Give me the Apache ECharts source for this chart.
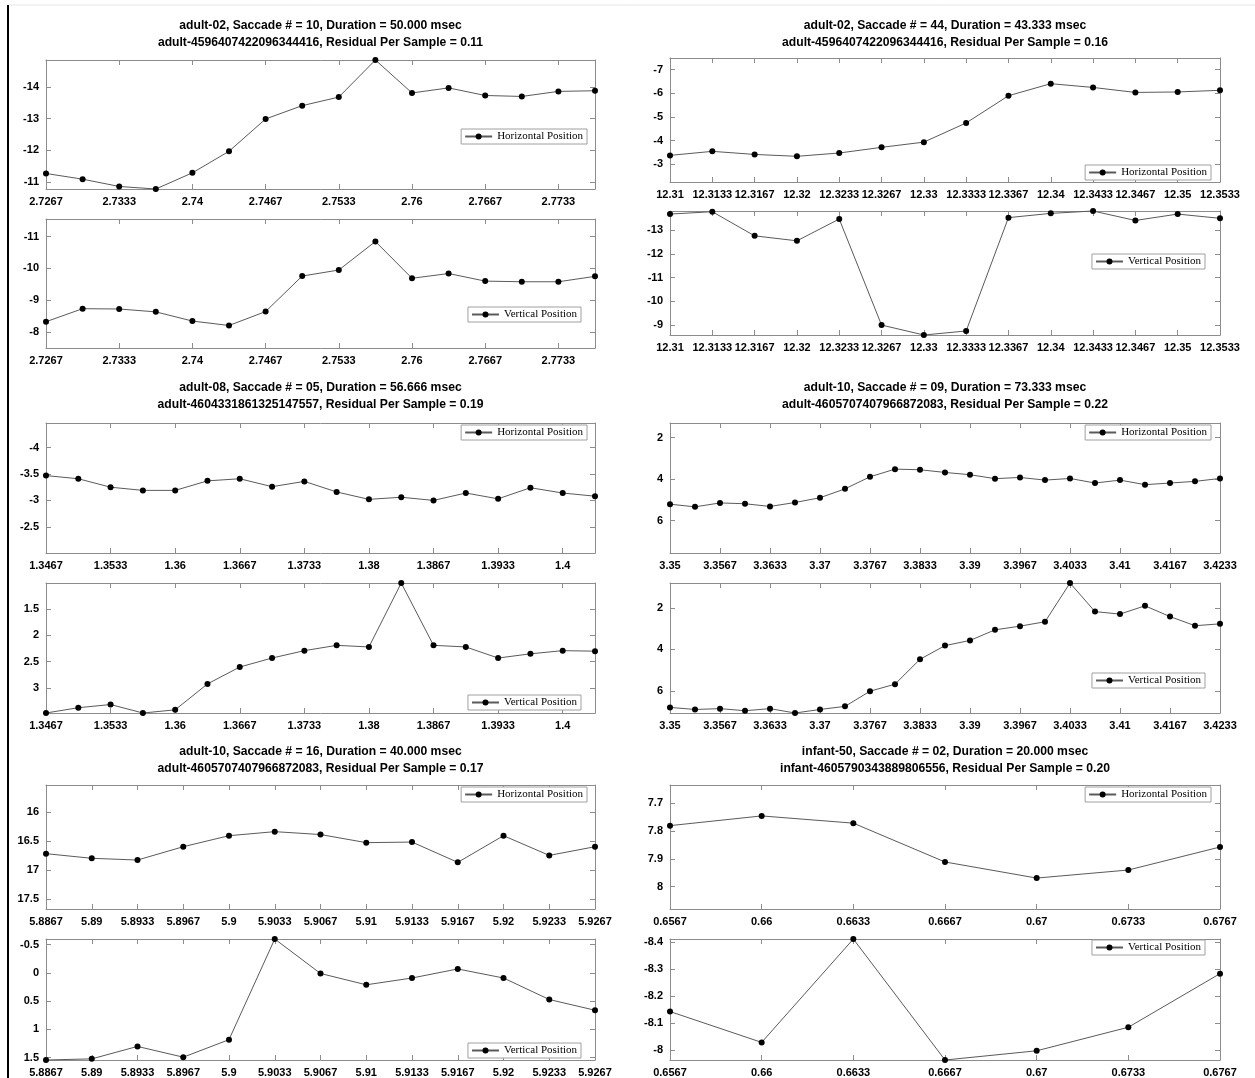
<!DOCTYPE html>
<html>
<head>
<meta charset="utf-8">
<script src="https://cdn.jsdelivr.net/npm/echarts@6/dist/echarts.min.js"></script>
<style>
  html, body { margin: 0; padding: 0; background: #fff; }
  #chart { width: 1255px; height: 1078px; }
</style>
</head>
<body>
<div id="chart"></div>
<script>
// ---- data ----
const titleLines1 = ['adult-02, Saccade # = 10, Duration = 50.000 msec', 'adult-4596407422096344416, Residual Per Sample = 0.11'];
const titleLines2 = ['adult-02, Saccade # = 44, Duration = 43.333 msec', 'adult-4596407422096344416, Residual Per Sample = 0.16'];
const titleLines3 = ['adult-08, Saccade # = 05, Duration = 56.666 msec', 'adult-4604331861325147557, Residual Per Sample = 0.19'];
const titleLines4 = ['adult-10, Saccade # = 09, Duration = 73.333 msec', 'adult-4605707407966872083, Residual Per Sample = 0.22'];
const titleLines5 = ['adult-10, Saccade # = 16, Duration = 40.000 msec', 'adult-4605707407966872083, Residual Per Sample = 0.17'];
const titleLines6 = ['infant-50, Saccade # = 02, Duration = 20.000 msec', 'infant-4605790343889806556, Residual Per Sample = 0.20'];

const time1 = [2.7267, 2.73, 2.7333, 2.7367, 2.74, 2.7433, 2.7467, 2.75, 2.7533, 2.7567, 2.76, 2.7633, 2.7667, 2.77, 2.7733, 2.7767];
const hPos1 = [-11.27, -11.09, -10.86, -10.78, -11.29, -11.97, -12.99, -13.41, -13.68, -14.85, -13.81, -13.97, -13.73, -13.70, -13.86, -13.88];
const vPos1 = [-8.32, -8.73, -8.72, -8.63, -8.34, -8.20, -8.64, -9.76, -9.95, -10.85, -9.69, -9.84, -9.60, -9.58, -9.58, -9.75];

const time2 = [12.31, 12.3133, 12.3167, 12.32, 12.3233, 12.3267, 12.33, 12.3333, 12.3367, 12.34, 12.3433, 12.3467, 12.35, 12.3533];
const hPos2 = [-3.38, -3.55, -3.42, -3.34, -3.48, -3.72, -3.94, -4.75, -5.90, -6.41, -6.25, -6.04, -6.06, -6.13];
const vPos2 = [-13.69, -13.79, -12.77, -12.56, -13.48, -9.00, -8.58, -8.75, -13.54, -13.72, -13.82, -13.42, -13.69, -13.51];

const time3 = [1.3467, 1.35, 1.3533, 1.3567, 1.36, 1.3633, 1.3667, 1.37, 1.3733, 1.3767, 1.38, 1.3833, 1.3867, 1.39, 1.3933, 1.3967, 1.4, 1.4033];
const hPos3 = [-3.47, -3.41, -3.25, -3.19, -3.19, -3.37, -3.41, -3.26, -3.36, -3.16, -3.02, -3.06, -3.00, -3.14, -3.03, -3.24, -3.14, -3.08];
const vPos3 = [3.47, 3.37, 3.31, 3.47, 3.41, 2.92, 2.60, 2.43, 2.29, 2.19, 2.22, 1.01, 2.19, 2.22, 2.43, 2.35, 2.29, 2.30];

const time4 = [3.35, 3.3533, 3.3567, 3.36, 3.3633, 3.3667, 3.37, 3.3733, 3.3767, 3.38, 3.3833, 3.3867, 3.39, 3.3933, 3.3967, 3.4, 3.4033, 3.4067, 3.41, 3.4133, 3.4167, 3.42, 3.4233];
const hPos4 = [5.21, 5.34, 5.15, 5.19, 5.32, 5.13, 4.90, 4.47, 3.89, 3.52, 3.55, 3.68, 3.79, 3.98, 3.92, 4.05, 3.97, 4.19, 4.05, 4.27, 4.19, 4.11, 3.97];
const vPos4 = [6.80, 6.90, 6.86, 6.96, 6.86, 7.07, 6.90, 6.75, 6.02, 5.68, 4.48, 3.82, 3.57, 3.06, 2.88, 2.67, 0.80, 2.18, 2.30, 1.90, 2.42, 2.86, 2.77];

const time5 = [5.8867, 5.89, 5.8933, 5.8967, 5.9, 5.9033, 5.9067, 5.91, 5.9133, 5.9167, 5.92, 5.9233, 5.9267];
const hPos5 = [16.72, 16.80, 16.83, 16.60, 16.41, 16.34, 16.39, 16.53, 16.52, 16.87, 16.41, 16.75, 16.60];
const vPos5 = [1.54, 1.52, 1.30, 1.49, 1.18, -0.60, 0.01, 0.21, 0.09, -0.07, 0.09, 0.47, 0.66];

const time6 = [0.6567, 0.66, 0.6633, 0.6667, 0.67, 0.6733, 0.6767];
const hPos6 = [7.780, 7.745, 7.771, 7.911, 7.969, 7.940, 7.857];
const vPos6 = [-8.143, -8.029, -8.411, -7.964, -7.998, -8.085, -8.283];

// ---- layout ----
const SANS = '"Liberation Sans", Arial, sans-serif';
const SERIF = '"Liberation Serif", "DejaVu Serif", serif';
const BOX = '#8c8c8c';

const panels = [
  { title: titleLines1, t: time1, h: hPos1, v: vPos1, step: 1, every: 1, x: 46, w: 549, cx: 320.5, ty: 25.5, top: [60, 189], bot: [219, 348], legH: [668, 129], legV: [674, 307] },
  { title: titleLines2, t: time2, h: hPos2, v: vPos2, step: 1, every: 0, x: 670, w: 550, cx: 945, ty: 25.5, top: [58, 182], bot: [211, 335], legH: [44, 165], legV: [50, 254] },
  { title: titleLines3, t: time3, h: hPos3, v: vPos3, step: 0.5, every: 1, x: 46, w: 549, cx: 320.5, ty: 387.5, top: [423, 553], bot: [583, 713], legH: [668, 425], legV: [674, 695] },
  { title: titleLines4, t: time4, h: hPos4, v: vPos4, step: 2, every: 1, x: 670, w: 550, cx: 945, ty: 387.5, top: [423, 553], bot: [583, 713], legH: [44, 425], legV: [50, 673] },
  { title: titleLines5, t: time5, h: hPos5, v: vPos5, step: 0.5, every: 0, x: 46, w: 549, cx: 320.5, ty: 751.5, top: [785, 909], bot: [939, 1062], legH: [668, 787], legV: [674, 1043] },
  { title: titleLines6, t: time6, h: hPos6, v: vPos6, step: 0.1, every: 0, x: 670, w: 550, cx: 945, ty: 751.5, top: [785, 909], bot: [939, 1062], legH: [44, 787], legV: [50, 940] }
];

// both panels of a saccade share the same y span, centred on their own data
function yLimits(a, b) {
  const lo = Math.min(...a), hi = Math.max(...a);
  const span = Math.max(hi - lo, Math.max(...b) - Math.min(...b));
  const mid = (lo + hi) / 2;
  return [mid - span / 2, mid + span / 2];
}

const grid = [], xAxis = [], yAxis = [], series = [], legend = [], graphic = [];

const fmt = (v) => String(parseFloat((+v).toFixed(4)));

panels.forEach((p) => {
  // titles: slightly condensed bold sans, like the original figure
  p.title.forEach((txt, k) => {
    graphic.push({
      type: 'text', x: p.cx, y: p.ty + k * 16.5, scaleX: 0.9,
      style: { text: txt, align: 'center', verticalAlign: 'middle', font: 'bold 13.5px ' + SANS, fill: '#000' }
    });
  });

  const subs = [
    { name: 'Horizontal Position', data: p.h, other: p.v, y: p.top, leg: p.legH },
    { name: 'Vertical Position', data: p.v, other: p.h, y: p.bot, leg: p.legV }
  ];

  subs.forEach((s) => {
    const gi = grid.length;
    grid.push({ left: p.x, top: s.y[0], width: p.w, height: s.y[1] - s.y[0] });
    const [ymin, ymax] = yLimits(s.data, s.other);

    const tick = { show: true, inside: true, length: 5, interval: p.every, lineStyle: { color: BOX, width: 1 } };
    const line = { show: true, onZero: false, lineStyle: { color: BOX, width: 1 } };

    const xi = xAxis.length;
    xAxis.push({
      type: 'category', gridIndex: gi, position: 'bottom', boundaryGap: false, data: p.t.map(String),
      axisLine: line, axisTick: tick, splitLine: { show: false },
      axisLabel: { show: true, interval: p.every, margin: 7, color: '#000', fontFamily: SANS, fontWeight: 'bold', fontSize: 11, formatter: fmt }
    });
    xAxis.push({
      type: 'category', gridIndex: gi, position: 'top', boundaryGap: false, data: p.t.map(String),
      axisLine: line, axisTick: tick, axisLabel: { show: false }, splitLine: { show: false }
    });

    const yTick = { show: true, inside: true, length: 5, lineStyle: { color: BOX, width: 1 } };
    const yi = yAxis.length;
    const yBase = {
      type: 'value', gridIndex: gi, inverse: true, min: ymin, max: ymax, scale: true,
      minInterval: p.step, maxInterval: p.step, splitNumber: 5,
      axisLine: line, axisTick: yTick, splitLine: { show: false }
    };
    yAxis.push(Object.assign({}, yBase, {
      position: 'left',
      axisLabel: { show: true, margin: 7, color: '#000', fontFamily: SANS, fontWeight: 'bold', fontSize: 11,
        showMinLabel: false, showMaxLabel: false, formatter: fmt }
    }));
    yAxis.push(Object.assign({}, yBase, { position: 'right', axisLabel: { show: false } }));

    series.push({
      type: 'line', name: s.name, xAxisIndex: xi, yAxisIndex: yi,
      data: s.data, symbol: 'circle', symbolSize: 6, showSymbol: true, clip: false,
      itemStyle: { color: '#000' }, lineStyle: { color: '#5a5a5a', width: 1 },
      emphasis: { disabled: true }, animation: false
    });

    legend.push({
      data: [s.name], right: s.leg[0], top: s.leg[1], orient: 'horizontal',
      padding: [2, 4, 2, 3], itemWidth: 27, itemHeight: 7.5, itemGap: 5,
      backgroundColor: '#fff', borderColor: '#a0a0a0', borderWidth: 1, borderRadius: 0,
      selectedMode: false,
      textStyle: { fontFamily: SERIF, fontSize: 11, color: '#000' }
    });
  });
});

// figure frame lines
graphic.push(
  { type: 'line', shape: { x1: 8, y1: 5, x2: 1255, y2: 5 }, style: { stroke: '#e6e6e6', lineWidth: 1 } },
  { type: 'line', shape: { x1: 8, y1: 5, x2: 8, y2: 1078 }, style: { stroke: '#000', lineWidth: 2 } }
);

const chart = echarts.init(document.getElementById('chart'), null, { renderer: 'canvas' });
chart.setOption({
  backgroundColor: '#fff',
  animation: false,
  tooltip: { show: false },
  grid, xAxis, yAxis, series, legend, graphic
});
</script>
</body>
</html>
